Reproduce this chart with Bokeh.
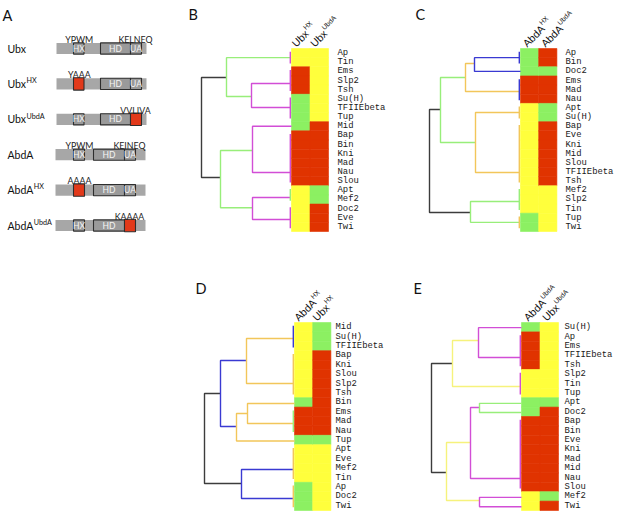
import math
from bokeh.plotting import figure
from bokeh.models import Range1d
from bokeh.core.properties import value
from bokeh.embed import file_html
from bokeh.resources import INLINE

# ------------------------------------------------------------------ data
# Panel A: constructs
A_names = ["Ubx", "Ubx", "Ubx", "AbdA", "AbdA", "AbdA"]
A_sups = ["", "HX", "UbdA", "", "HX", "UbdA"]
A_prot_start = [56, 56, 56, 55, 55, 55]
A_prot_end = [146, 146, 146, 145, 145, 145]
A_hx_start = [73, 73, 73, 73, 73, 73]
A_hx_end = [83.5, 83.5, 83.5, 84, 84, 84]
A_hd_start = [100, 100, 100, 93, 93, 93]
A_hd_end = [130, 130, 130, 124, 124, 124]
A_ua_start = [130, 130, 130, 124, 124, 124]
A_ua_end = [141, 141, 141, 135, 135, 135]
A_mutated = ["", "HX", "UA", "", "HX", "UA"]
A_motif_hx = ["YPWM", "YAAA", "", "YPWM", "AAAA", ""]
A_motif_ua = ["KELNEQ", "", "VVLIVA", "KEINEQ", "", "KAAAA"]

# Panel B
B_cols = [("Ubx", "HX"), ("Ubx", "UbdA")]
B_rows = ["Ap", "Tin", "Ems", "Slp2", "Tsh", "Su(H)", "TFIIEbeta", "Tup", "Mid", "Bap",
          "Bin", "Kni", "Mad", "Nau", "Slou", "Apt", "Mef2", "Doc2", "Eve", "Twi"]
B_vals = [list("YYRRRGGGGRRRRRRYYYYY"), list("YYYYYYYYRRRRRRRGGRRR")]
B_nodes = {"root": (9.0, None), "T": (6.5, 3.17), "Bt": (7.1, 14.1),
           "M1": (4.0, 5.25), "M2": (3.9, 11.15), "M3": (3.9, 17.4)}
B_leaves = {"L1": (0, 1, 1.0, "m"), "G1": (2, 4, 3.83, "m"), "G2": (5, 7, 6.45, "m"),
            "Mid": (8, 8, 8.5, "m"), "G3": (9, 14, 13.55, "m"), "G4": (15, 16, 16.28, "g"),
            "G5": (17, 19, 18.69, "m")}
B_links = [("root", "T", "Bt", "k"), ("T", "L1", "M1", "g"), ("M1", "G1", "G2", "m"),
           ("Bt", "M2", "M3", "g"), ("M2", "Mid", "G3", "m"), ("M3", "G4", "G5", "m")]

# Panel C
C_cols = [("AbdA", "HX"), ("AbdA", "UbdA")]
C_rows = ["Ap", "Bin", "Doc2", "Ems", "Mad", "Nau", "Apt", "Su(H)", "Bap", "Eve",
          "Kni", "Mid", "Slou", "TFIIEbeta", "Tsh", "Mef2", "Slp2", "Tin", "Tup", "Twi"]
C_vals = [list("GGGRRRYYYYYYYYYYYYGG"), list("RRGRRRGGRRRRRRRYYYYY")]
C_nodes = {"root": (9.1, None), "CT": (8.0, 6.67), "CB": (5.0, 17.92),
           "O1": (5.5, 3.17), "O2": (4.5, 10.27), "B1": (4.6, 1.64)}
C_leaves = {"ApBin": (0, 1, 1.0, "b"), "Doc2": (2, 2, 2.5, "b"), "EMN": (3, 5, 4.7, "b"),
            "AptSu": (6, 7, 7.0, "o"), "G8": (8, 14, 13.55, "o"), "G15": (15, 17, 16.72, "g"),
            "G18": (18, 19, 19.0, "o")}
C_links = [("root", "CT", "CB", "k"), ("CT", "O1", "O2", "g"), ("O1", "B1", "EMN", "o"),
           ("B1", "ApBin", "Doc2", "b"), ("O2", "AptSu", "G8", "o"), ("CB", "G15", "G18", "g")]

# Panel D
D_cols = [("AbdA", "HX"), ("Ubx", "HX")]
D_rows = ["Mid", "Su(H)", "TFIIEbeta", "Bap", "Kni", "Slou", "Slp2", "Tsh", "Bin", "Ems",
          "Mad", "Nau", "Tup", "Apt", "Eve", "Mef2", "Tin", "Ap", "Doc2", "Twi"]
D_vals = [list("YYYYYYYYGRRRGYYYYGGG"), list("GGGRRRRRRRRRGYYYYYYY")]
D_nodes = {"root": (9.0, None), "DT": (7.4, 7.55), "DB": (5.3, 17.13),
           "O1": (4.8, 4.04), "O2": (5.8, 11.06), "O3": (4.7, 9.68)}
D_leaves = {"g0": (0, 2, 1.70, "b"), "g3": (3, 7, 6.49, "o"), "Bin": (8, 8, 8.62, "o"),
            "g9": (9, 11, 10.74, "g"), "Tup": (12, 12, 12.6, "o"), "g13": (13, 16, 15.64, "o"),
            "g17": (17, 19, 18.72, "o")}
D_links = [("root", "DT", "DB", "k"), ("DT", "O1", "O2", "b"), ("O1", "g0", "g3", "o"),
           ("O2", "O3", "Tup", "o"), ("O3", "Bin", "g9", "o"), ("DB", "g13", "g17", "b")]

# Panel E
E_cols = [("AbdA", "UbdA"), ("Ubx", "UbdA")]
E_rows = ["Su(H)", "Ap", "Ems", "TFIIEbeta", "Tsh", "Slp2", "Tin", "Tup", "Apt", "Doc2",
          "Bap", "Bin", "Eve", "Kni", "Mad", "Mid", "Nau", "Slou", "Mef2", "Twi"]
E_vals = [list("GRRRRYYYGGRRRRRRRRYY"), list("YYYYYYYYGRRRRRRRRRGR")]
E_nodes = {"root": (9.0, None), "ET": (6.9, 4.36), "EB": (7.5, 15.96),
           "M1": (4.3, 1.91), "M2": (5.1, 12.77), "GR": (4.2, 9.04), "M3": (4.2, 18.94)}
E_leaves = {"SuH": (0, 0, 0.55, "m"), "g1": (1, 4, 3.72, "m"), "g5": (5, 7, 6.81, "m"),
            "Apt": (8, 8, 8.6, "g"), "Doc2": (9, 9, 9.57, "g"), "g10": (10, 17, 16.6, "m"),
            "Mef2": (18, 18, 18.6, "m"), "Twi": (19, 19, 19.6, "m")}
E_links = [("root", "ET", "EB", "k"), ("ET", "M1", "g5", "y"), ("M1", "SuH", "g1", "m"),
           ("EB", "M2", "M3", "y"), ("M2", "GR", "g10", "m"), ("GR", "Apt", "Doc2", "g"),
           ("M3", "Mef2", "Twi", "m")]

# ------------------------------------------------------------------ style
CELL = {"Y": "#ffff3c", "R": "#e03300", "G": "#8cf062"}
LINK = {"k": "#3c3c3c", "g": "#98ee7a", "m": "#d24ed6", "b": "#3a3ad2",
        "o": "#f2c65a", "y": "#f6f27c"}
def fpx(v):
    return f"{v:.2f}px"

SANS = value("Lato")
HDR = value("Liberation Sans")
MONO = value("Liberation Mono")

W, H = 617, 513
p = figure(width=W, height=H, x_range=Range1d(0, W), y_range=Range1d(H, 0),
           output_backend="svg", toolbar_location=None, min_border=0,
           x_axis_location=None, y_axis_location=None)
p.grid.visible = False
p.outline_line_color = None
p.background_fill_color = "white"
p.border_fill_color = "white"

# panel letters
p.text(x=[2, 188, 415, 195, 413], y=[15, 13.5, 13.5, 287.5, 287.5], text=list("ABCDE"),
       text_font=SANS, text_font_size=fpx(14.5), text_baseline="alphabetic",
       text_align="left", text_color="#111111")

# ------------------------------------------------------------------ panel A
A_y0, A_dy, A_h = 48, 35.4, 5.6
ys = [A_y0 + i * A_dy for i in range(len(A_names))]
p.quad(left=A_prot_start, right=A_prot_end, top=[y - A_h for y in ys],
       bottom=[y + A_h for y in ys], fill_color="#a7a7a7", line_color=None)
bl, br, bt, bb, bc = [], [], [], [], []
tl_x, tl_y, tl_t = [], [], []
for i, y in enumerate(ys):
    doms = [("HX", A_hx_start[i], A_hx_end[i]), ("HD", A_hd_start[i], A_hd_end[i]),
            ("UA", A_ua_start[i], A_ua_end[i])]
    for name, s, e in doms:
        mut = (A_mutated[i] == name)
        bl.append(s); br.append(e)
        bt.append(y - A_h - (0.6 if mut else 0)); bb.append(y + A_h + (0.6 if mut else 0))
        bc.append("#e2391a" if mut else "#9a9a9a")
        if not mut:
            tl_x.append((s + e) / 2); tl_y.append(y); tl_t.append(name)
p.quad(left=bl, right=br, top=bt, bottom=bb, fill_color=bc, line_color="#2e2e2e", line_width=1.1)
p.text(x=tl_x, y=tl_y, text=tl_t, text_font=SANS, text_font_size=fpx(8.5), text_color="#f4f4f4",
       text_align="center", text_baseline="middle")
mx, my, mt = [], [], []
for i, y in enumerate(ys):
    if A_motif_hx[i]:
        mx.append((A_hx_start[i] + A_hx_end[i]) / 2 + 0.5); my.append(y - A_h - 3.6); mt.append(A_motif_hx[i])
    if A_motif_ua[i]:
        mx.append((A_ua_start[i] + A_ua_end[i]) / 2 - 0.5); my.append(y - A_h - 3.6); mt.append(A_motif_ua[i])
p.text(x=mx, y=my, text=mt, text_font=SANS, text_font_size=fpx(8.8), text_color="#222222",
       text_align="center", text_baseline="alphabetic")
# row labels with superscripts
MAINW = {"Ubx": 18.7, "AbdA": 26.0}
p.text(x=[7] * 6, y=ys, text=A_names, text_font=SANS, text_font_size=fpx(10.5),
       text_baseline="middle", text_align="left", text_color="#111111")
sx_, sy_, st_ = [], [], []
for i, y in enumerate(ys):
    if A_sups[i]:
        sx_.append(7 + MAINW[A_names[i]] + 0.3); sy_.append(y - 3.2); st_.append(A_sups[i])
p.text(x=sx_, y=sy_, text=st_, text_font=SANS, text_font_size=fpx(7.2),
       text_baseline="middle", text_align="left", text_color="#111111")

# ------------------------------------------------------------------ panels B-E
DSCALE = 10.0
panels = [
    (B_cols, B_rows, B_vals, B_nodes, B_leaves, B_links, dict(edge=291, top=48, rh=9.15, colw=18.5, lab=337, hoff=2)),
    (C_cols, C_rows, C_vals, C_nodes, C_leaves, C_links, dict(edge=520, top=48, rh=9.15, colw=18.2, lab=565, hoff=4)),
    (D_cols, D_rows, D_vals, D_nodes, D_leaves, D_links, dict(edge=294, top=322, rh=9.4, colw=18.2, lab=335, hoff=1.5)),
    (E_cols, E_rows, E_vals, E_nodes, E_leaves, E_links, dict(edge=521, top=322, rh=9.4, colw=18.5, lab=564, hoff=4)),
]
HW = {"Ubx": 18.7, "AbdA": 25.7}
c45 = math.cos(math.pi / 4)

for cols, rows, vals, nodes, leaves, links, g in panels:
    edge, top, rh, colw = g["edge"], g["top"], g["rh"], g["colw"]
    # heatmap cells
    L, R, T, Bm, C = [], [], [], [], []
    for j, col in enumerate(vals):
        for i, v in enumerate(col):
            L.append(edge + j * colw); R.append(edge + (j + 1) * colw)
            T.append(top + i * rh); Bm.append(top + (i + 1) * rh); C.append(CELL[v])
    p.quad(left=L, right=R, top=T, bottom=Bm, fill_color=C, line_color=C, line_width=0.6)
    # row labels
    p.text(x=[g["lab"]] * len(rows), y=[top + (i + 0.5) * rh for i in range(len(rows))], text=rows,
           text_font=MONO, text_font_size=fpx(8.9), text_baseline="middle", text_align="left",
           text_color="#1a1a1a")
    # column headers (rotated) with superscripts
    hx_, hy_, ht_, qx, qy, qt = [], [], [], [], [], []
    for j, (main, sup) in enumerate(cols):
        x0 = edge + j * colw + g["hoff"]
        y0 = top - 3.5
        hx_.append(x0); hy_.append(y0); ht_.append(main)
        w = HW[main] + 0.5
        h = 4.0
        qx.append(x0 + (w * c45 - h * c45))
        qy.append(y0 - (w * c45 + h * c45))
        qt.append(sup)
    p.text(x=hx_, y=hy_, text=ht_, angle=math.pi / 4, text_font=HDR, text_font_size=fpx(10.5),
           text_baseline="alphabetic", text_align="left", text_color="#111111")
    p.text(x=qx, y=qy, text=qt, angle=math.pi / 4, text_font=HDR, text_font_size=fpx(6.8),
           text_baseline="alphabetic", text_align="left", text_color="#111111")
    # dendrogram
    def pos(name):
        if name in leaves:
            first, last, r, _ = leaves[name]
            d = 0.12 if last > first else 0.0
        else:
            d, r = nodes[name]
        return edge - d * DSCALE, top + r * rh
    xs, ysl, cs = [], [], []
    for par, a, b, col in links:
        px_ = edge - nodes[par][0] * DSCALE
        ax, ay = pos(a)
        bx, by = pos(b)
        xs.append([ax, px_, px_, bx]); ysl.append([ay, ay, by, by]); cs.append(LINK[col])
    for name, (first, last, r, col) in leaves.items():
        if last > first:
            x = edge - 0.12 * DSCALE
            xs.append([x, x]); ysl.append([top + (first + 0.35) * rh, top + (last + 0.65) * rh])
            cs.append(LINK[col])
    p.multi_line(xs=xs, ys=ysl, line_color=cs, line_width=1.4)

open("out.html", "w").write(file_html(p, INLINE))
